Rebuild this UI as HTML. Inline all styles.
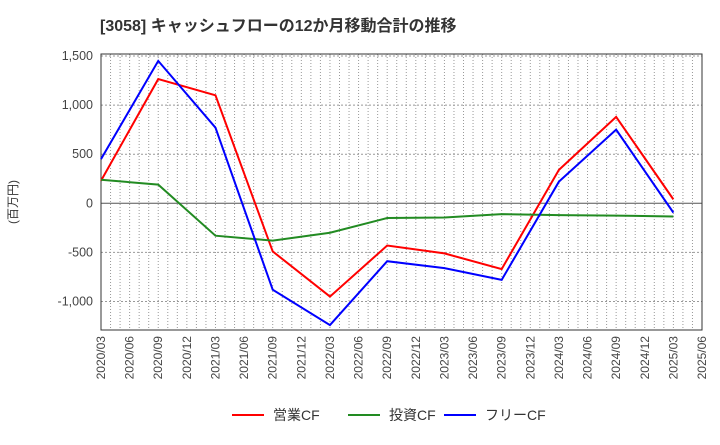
<!DOCTYPE html>
<html><head><meta charset="utf-8"><style>
body{margin:0;background:#fff;font-family:"Liberation Sans","Noto Sans CJK JP",sans-serif;}
</style></head><body>
<svg width="720" height="440" xmlns="http://www.w3.org/2000/svg" font-family="Liberation Sans, Noto Sans CJK JP, sans-serif">
<text x="100" y="31" font-size="16" font-weight="bold" fill="#333">[3058]  キャッシュフローの12か月移動合計の推移</text>
<text x="17" y="202" font-size="12" fill="#333" transform="rotate(-90 17 202)" text-anchor="middle">(百万円)</text>
<g id="grid"></g><g id="axes"></g><g id="series"></g><g id="legend"></g>
</svg>
<script>
const categories=["2020/03","2020/06","2020/09","2020/12","2021/03","2021/06","2021/09","2021/12","2022/03","2022/06","2022/09","2022/12","2023/03","2023/06","2023/09","2023/12","2024/03","2024/06","2024/09","2024/12","2025/03","2025/06"];
const yTicks=[1500,1000,500,0,-500,-1000];
const yTickLabels=["1,500","1,000","500","0","-500","-1,000"];
const opDates=["2020/03","2020/09","2021/03","2021/09","2022/03","2022/09","2023/03","2023/09","2024/03","2024/09","2025/03"];
const opCF=[230,1265,1100,-490,-950,-430,-510,-670,340,880,40];
const invCF=[240,190,-330,-380,-300,-150,-145,-110,-120,-125,-135];
const freeCF=[450,1450,770,-880,-1240,-590,-660,-780,220,750,-95];
const NS="http://www.w3.org/2000/svg";
const L=101,R=702,T=54,B=330;
const x=i=>L+(R-L)*i/(categories.length-1);
const xd=d=>x(categories.indexOf(d));
const y=v=>203.3-v*0.0982;
function mk(tag,a,parent){const e=document.createElementNS(NS,tag);for(const k in a)e.setAttribute(k,a[k]);document.getElementById(parent).appendChild(e);return e;}
for(let m=1;m<63;m++){const xx=L+(R-L)*m/63;const g=mk('line',{x1:xx,x2:xx,y1:T,y2:B,stroke:'#999','stroke-dasharray':'1,2','stroke-width':1},'grid');

}
yTicks.forEach((v,i)=>{const g=mk('line',{x1:L,x2:R,y1:y(v),y2:y(v),stroke:v===0?'#555':'#999','stroke-dasharray':v===0?'none':'2,2','stroke-width':1},'grid');


const t=mk('text',{x:L-8,y:y(v)+4,'text-anchor':'end','font-size':12.5,fill:'#444'},'axes');t.textContent=yTickLabels[i];

});
const fr=mk('rect',{x:L,y:T,width:R-L,height:B-T,fill:'none',stroke:'#333'},'axes');


categories.forEach((c,i)=>{const t=mk('text',{x:0,y:0,'font-size':12,fill:'#444','text-anchor':'end',transform:`translate(${x(i)+4},${B+6}) rotate(-90)`},'axes');t.textContent=c;

});
const series=[["営業CF",opCF,"#ff0000","operating-cf-line"],["投資CF",invCF,"#228b22","investing-cf-line"],["フリーCF",freeCF,"#0000ff","free-cf-line"]];
series.forEach(([n,d,c,nm])=>{const p=mk('polyline',{points:d.map((v,i)=>xd(opDates[i])+','+y(v)).join(' '),fill:'none',stroke:c,'stroke-width':2},'series');

});
const lx=[232,348,444];
series.forEach(([n,d,c],i)=>{const l=mk('line',{x1:lx[i],x2:lx[i]+32,y1:415,y2:415,stroke:c,'stroke-width':2},'legend');


const t=mk('text',{x:lx[i]+41,y:420,'font-size':14,fill:'#333'},'legend');t.textContent=n;

});
</script>
</body></html>
